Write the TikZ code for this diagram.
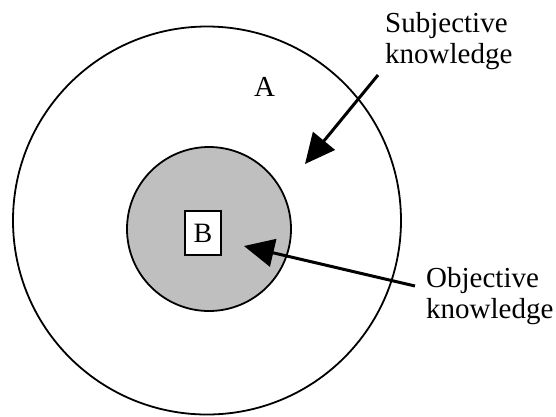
\documentclass[tikz,border=0pt]{standalone}
\usepackage{fontspec}
\setmainfont{Liberation Serif}
\usetikzlibrary{arrows.meta}
\begin{document}
\begin{tikzpicture}[x=1pt, y=-1pt, >={Triangle[length=30pt,width=28pt]},
    ring/.style={circle, draw, line width=1.8pt, inner sep=0pt},
    lbl/.style={inner sep=0pt, align=left, font=\fontsize{29}{31}\selectfont}]
    \useasboundingbox (0,0) rectangle (556,416);
    \node[ring, minimum size=388pt] (outer) at (207,220.5) {};
    \node[ring, fill=black!25, minimum size=164pt] (inner) at (209,229) {};
    \node[draw, fill=white, line width=2.2pt, inner sep=0pt, minimum width=36pt,
        minimum height=44pt, font=\fontsize{28}{31}\selectfont] (B) at (203,233) {B};
    \node[lbl] (A) at (264.5,87) {A};
    
    \node[lbl, anchor=north west] (subj) at (385,12) {Subjective\\knowledge};
    \node[lbl, anchor=north west] (obj) at (426,267) {Objective\\knowledge};
    
    \coordinate (subjtail) at (378,75); \coordinate (subjtip) at (305,164);
    \coordinate (objtail) at (415,286); \coordinate (objtip) at (244,246);
    \draw [->, line width=3pt] (subjtail)--(subjtip);
    \draw [->, line width=3pt] (objtail)--(objtip);
\end{tikzpicture}
\end{document}
